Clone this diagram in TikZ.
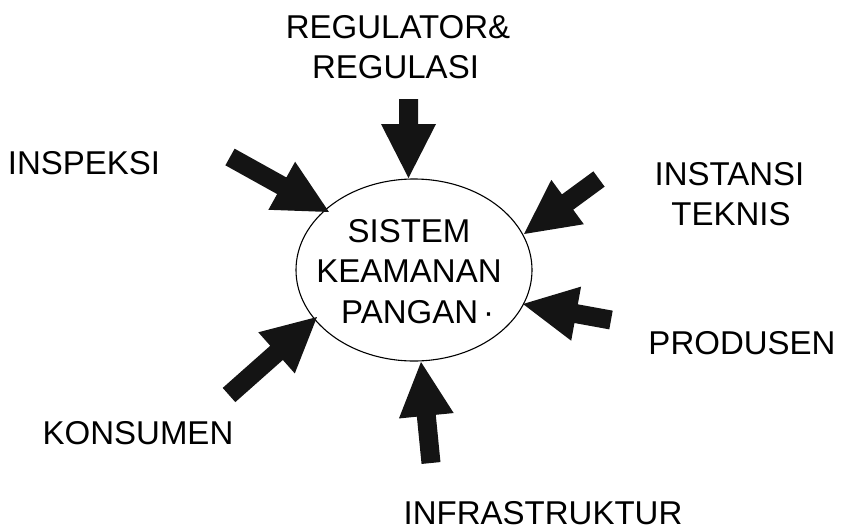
\documentclass[tikz,border=0pt]{standalone}
\usepackage{fontspec}
\setmainfont{Liberation Sans}
\usetikzlibrary{calc,shapes.geometric}
\tikzset{
  lbl/.style={font=\fontsize{33}{40}\selectfont, inner sep=0pt, anchor=base},
  arrowfill/.style={fill=black!92},
  hub/.style={draw, ellipse, line width=1.1pt, minimum width=236pt, minimum height=182pt, inner sep=0pt}
}
\newcommand\blockarrow[2]{%
  \path let \p1=(#1), \p2=(#2) in \pgfextra{%
    \pgfmathsetmacro\baAngT{atan2(\y2-\y1,\x2-\x1)}%
    \pgfmathsetmacro\baLenT{veclen(\x2-\x1,\y2-\y1)}%
    \xdef\baAng{\baAngT}\xdef\baLen{\baLenT}\xdef\baX{\x1}\xdef\baY{\y1}};
  \fill[arrowfill, shift={(\baX,\baY)}, rotate=\baAng]
    (0pt,-9.5pt) -- ({\baLen*1pt-54pt},-9.5pt) -- ({\baLen*1pt-54pt},-27.5pt)
    -- ({\baLen*1pt},0pt) -- ({\baLen*1pt-54pt},27.5pt) -- ({\baLen*1pt-54pt},9.5pt)
    -- (0pt,9.5pt) -- cycle;
}
\begin{document}
\begin{tikzpicture}[x=1pt,y=-1pt]
\useasboundingbox (0,0) rectangle (842,528);
\node[hub] (sys) at (414,270) {};
\node[lbl] (c1) at (409,242) {SISTEM};
\node[lbl] (c2) at (409,282) {KEAMANAN};
\node[lbl, anchor=base west] (c3) at (341,323) {PANGAN\hspace{5pt}·};

\node[lbl] (reg1) at (398,38) {REGULATOR\&};
\node[lbl] (reg2) at (395.5,78) {REGULASI};
\node[lbl] (insp) at (84,174) {INSPEKSI};
\node[lbl] (inst1) at (729.5,185) {INSTANSI};
\node[lbl] (inst2) at (731,225) {TEKNIS};
\node[lbl] (prod) at (742,354) {PRODUSEN};
\node[lbl] (kons) at (138,444) {KONSUMEN};
\node[lbl] (infra) at (543,524) {INFRASTRUKTUR};

\coordinate (regT) at (408.5,99);  \coordinate (regH) at (408.5,178);
\coordinate (insT) at (230,157);   \coordinate (insH) at (329,212);
\coordinate (tekT) at (599,179);   \coordinate (tekH) at (524,234);
\coordinate (proT) at (611,320);   \coordinate (proH) at (523,304);
\coordinate (konT) at (229,395);   \coordinate (konH) at (317,317);
\coordinate (infT) at (431,463);   \coordinate (infH) at (421,362);

\blockarrow{regT}{regH}
\blockarrow{insT}{insH}
\blockarrow{tekT}{tekH}
\blockarrow{proT}{proH}
\blockarrow{konT}{konH}
\blockarrow{infT}{infH}
\end{tikzpicture}
\end{document}
